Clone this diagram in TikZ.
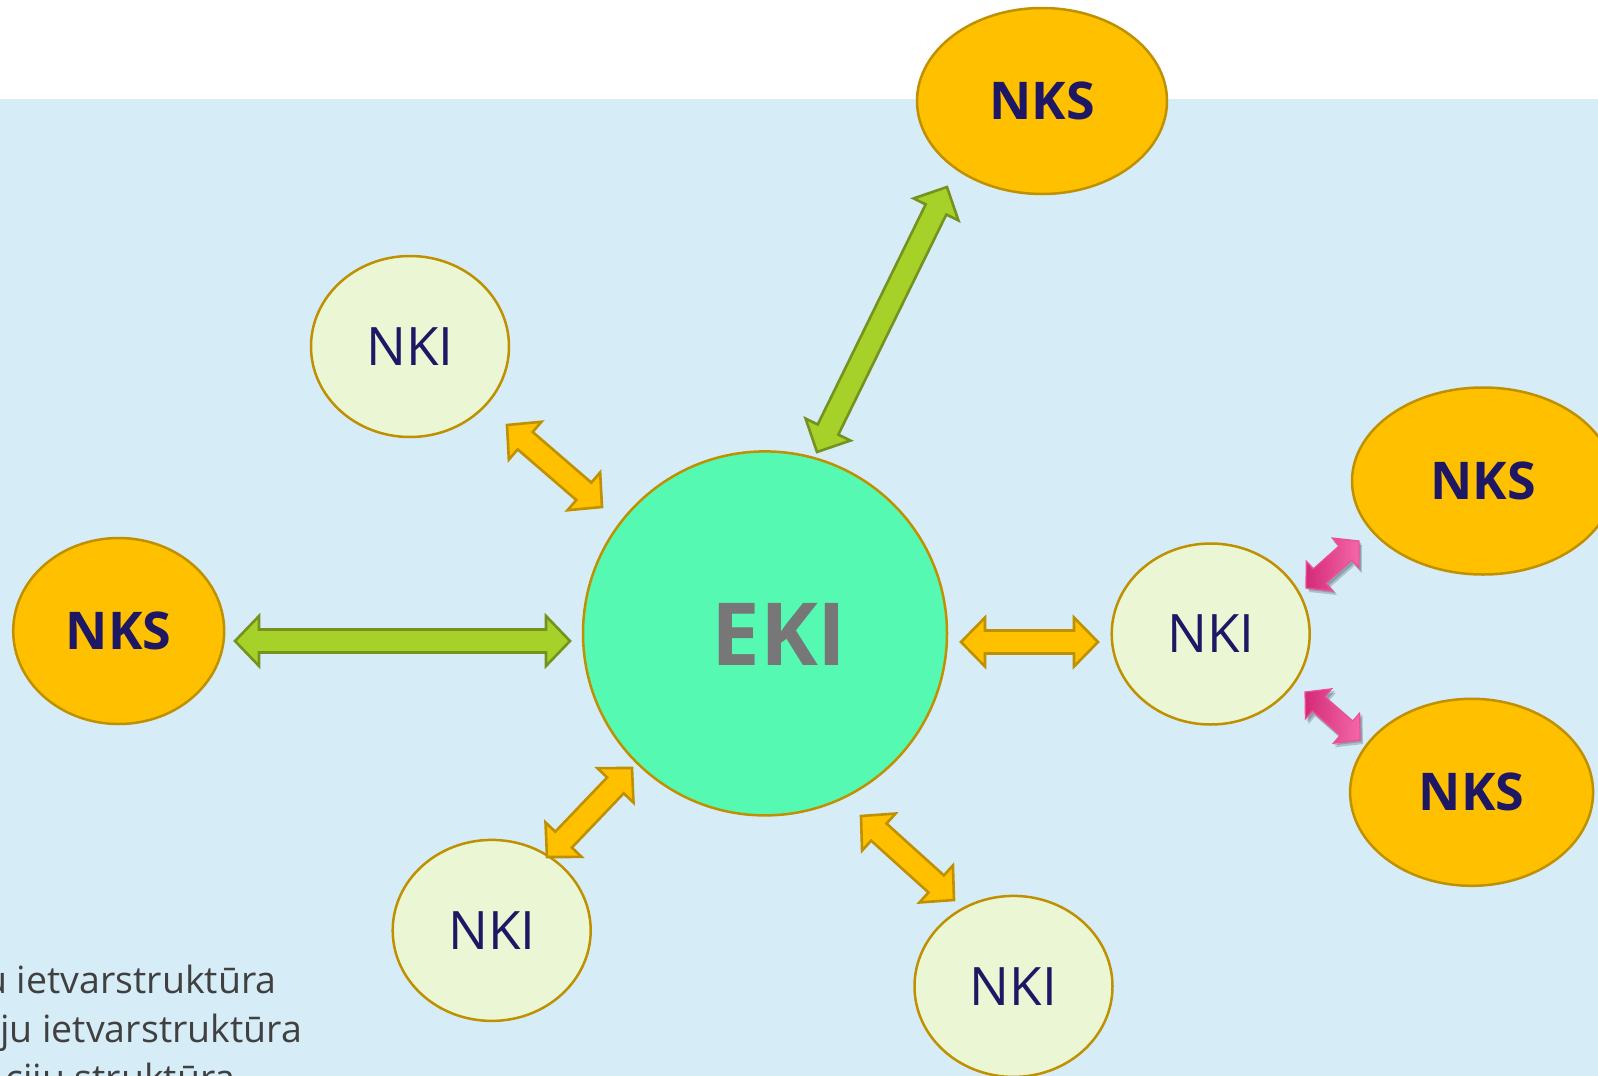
\documentclass[tikz,border=0pt]{standalone}
\usepackage{fontspec}
\setmainfont{Open Sans}
\usetikzlibrary{shapes.geometric,calc}
\definecolor{bgblue}{HTML}{D6EDF8}
\definecolor{goldline}{HTML}{BF9000}
\definecolor{nksfill}{HTML}{FFC000}
\definecolor{nkifill}{HTML}{EBF6D5}
\definecolor{ekifill}{HTML}{55F9B2}
\definecolor{navy}{HTML}{1E1764}
\definecolor{ekigrey}{HTML}{777777}
\definecolor{greenfill}{HTML}{A5D129}
\definecolor{greenline}{HTML}{76921E}
\definecolor{pinkdark}{HTML}{D42A78}
\definecolor{pinklight}{HTML}{F468A8}
\definecolor{pinkline}{HTML}{F04C9C}
\definecolor{bodytext}{HTML}{404040}
\newcommand\blockarrow[6]{%
  \path[#1] (#2)
    -- ($(#2)!#6!(#3)!#5!90:(#3)$)
    -- ($(#2)!#6!(#3)!#4!90:(#3)$)
    -- ($(#3)!#6!(#2)!#4!-90:(#2)$)
    -- ($(#3)!#6!(#2)!#5!-90:(#2)$)
    -- (#3)
    -- ($(#3)!#6!(#2)!#5!90:(#2)$)
    -- ($(#3)!#6!(#2)!#4!90:(#2)$)
    -- ($(#2)!#6!(#3)!#4!-90:(#3)$)
    -- ($(#2)!#6!(#3)!#5!-90:(#3)$)
    -- cycle;}
\tikzset{
  nks/.style={ellipse, draw=goldline, line width=2.5pt, fill=nksfill, inner sep=0pt,
    text=navy, font=\fontsize{52}{60}\selectfont\bfseries},
  nki/.style={ellipse, draw=goldline, line width=2.5pt, fill=nkifill, inner sep=0pt,
    minimum width=198pt, minimum height=181pt,
    text=navy, font=\fontsize{53}{60}\selectfont},
  ekicircle/.style={circle, draw=goldline, line width=2.5pt, fill=ekifill, inner sep=0pt,
    minimum size=364pt},
  ekilabel/.style={inner sep=0pt, text=ekigrey, font=\fontsize{87}{95}\selectfont\bfseries},
  orangearrow/.style={fill=nksfill, draw=goldline, line width=2.6pt, line join=miter},
  greenarrow/.style={fill=greenfill, draw=greenline, line width=2.6pt, line join=miter},
  pinkarrow/.style={left color=pinkdark, right color=pinklight, draw=pinkline, line width=1.2pt, line join=miter},
  pinkshadow/.style={fill=black, opacity=0.18},
  bodyline/.style={anchor=base west, inner sep=0pt, text=bodytext, font=\fontsize{37.5}{45}\selectfont}
}
\begin{document}
\begin{tikzpicture}[x=1pt,y=-1pt]
\useasboundingbox (0,0) rectangle (1598,1076);
\clip (0,0) rectangle (1598,1076);
\fill[white] (0,0) rectangle (1598,99);
\fill[bgblue] (0,99) rectangle (1598,1076);

% nodes
\node[nks, minimum width=250pt, minimum height=186pt] (nksT) at (1042,101) {NKS};
\node[nki] (nkiTL) at (410,346.5) {NKI};
\node[nks, minimum width=211pt, minimum height=186pt] (nksL) at (118.7,631) {NKS};
\node[ekicircle] (eki) at (765,633.4) {};
\node[ekilabel] (ekit) at (779,634) {EKI};
\node[nki] (nkiR) at (1210.7,634) {NKI};
\node[nks, minimum width=262pt, minimum height=187pt] (nksRT) at (1483,481) {NKS};
\node[nks, minimum width=243pt, minimum height=187pt] (nksRB) at (1471.6,792.3) {NKS};
\node[nki] (nkiBL) at (491.7,930.4) {NKI};
\node[nki] (nkiBR) at (1013.5,986.4) {NKI};

% arrow end points
\coordinate (gH1) at (235,641);   \coordinate (gH2) at (570,641);
\coordinate (oH1) at (961,642);   \coordinate (oH2) at (1098,642);
\coordinate (gD1) at (817,452);   \coordinate (gD2) at (947,187);
\coordinate (oTL1) at (507,425);  \coordinate (oTL2) at (602,507);
\coordinate (oBL1) at (547,857);  \coordinate (oBL2) at (632,768);
\coordinate (oBR1) at (861,816);  \coordinate (oBR2) at (954,900);
\coordinate (pT1) at (1306,588);  \coordinate (pT2) at (1359,541);
\coordinate (pB1) at (1305,692);  \coordinate (pB2) at (1360,740);

\blockarrow{greenarrow}{gH1}{gH2}{11.5pt}{25pt}{24pt}
\blockarrow{greenarrow}{gD1}{gD2}{11.5pt}{25pt}{25pt}
\blockarrow{orangearrow}{oH1}{oH2}{11.5pt}{24.5pt}{24pt}
\blockarrow{orangearrow}{oTL1}{oTL2}{11.5pt}{25pt}{24pt}
\blockarrow{orangearrow}{oBL1}{oBL2}{11.5pt}{25pt}{24pt}
\blockarrow{orangearrow}{oBR1}{oBR2}{11.5pt}{25pt}{24pt}

\begin{scope}[transform canvas={xshift=3pt,yshift=-4pt}]
\blockarrow{pinkshadow}{pT1}{pT2}{10.5pt}{21pt}{19pt}
\blockarrow{pinkshadow}{pB1}{pB2}{10.5pt}{21pt}{19pt}
\end{scope}
\begin{scope}[transform canvas={xshift=2pt,yshift=-2pt}]
\blockarrow{pinkshadow}{pT1}{pT2}{10.5pt}{21pt}{19pt}
\blockarrow{pinkshadow}{pB1}{pB2}{10.5pt}{21pt}{19pt}
\end{scope}
\blockarrow{pinkarrow}{pT1}{pT2}{9.5pt}{20pt}{18pt}
\blockarrow{pinkarrow}{pB1}{pB2}{9.5pt}{20pt}{18pt}

% bottom-left text
\node[bodyline] (t1) at (-16,993) {u ietvarstruktūra};
\node[bodyline] (t2) at (0,1042) {ju ietvarstruktūra};
\node[bodyline] (t3) at (5,1091) {ciju struktūra};
\end{tikzpicture}
\end{document}
